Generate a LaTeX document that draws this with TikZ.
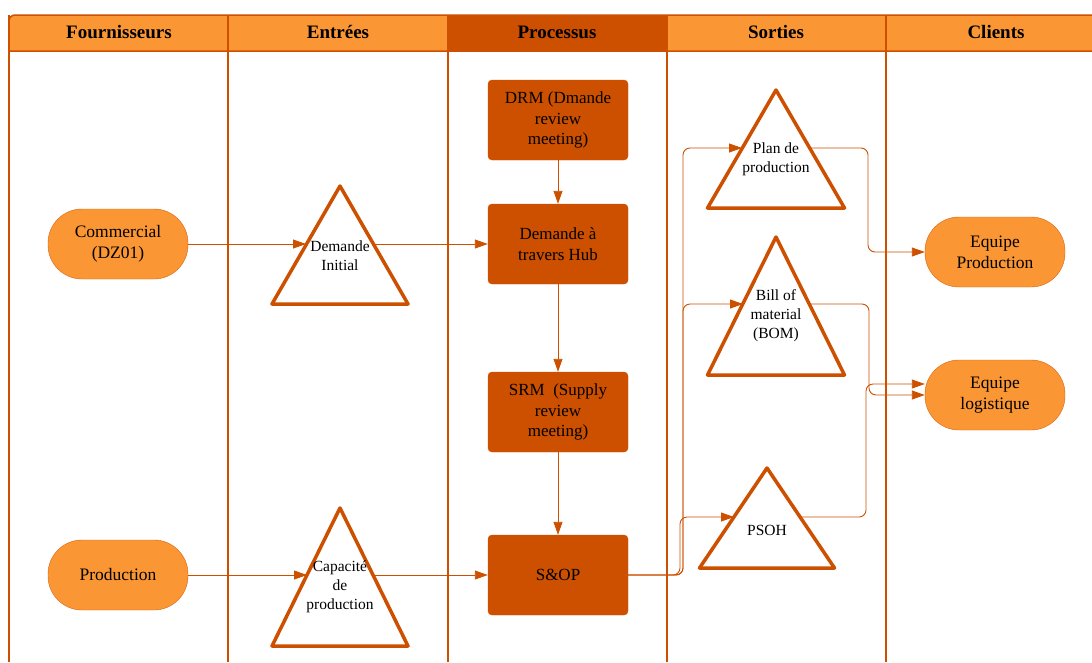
\documentclass[tikz,border=0pt]{standalone}
\usepackage{fontspec}
\setmainfont{Liberation Serif}
\usetikzlibrary{arrows.meta}
\definecolor{dkor}{HTML}{CC5000}
\definecolor{ltor}{HTML}{FB9634}
\tikzset{
    lane/.style={draw=dkor, line width=1.5pt},
    head/.style={font=\fontsize{19}{21}\selectfont\bfseries},
    actor/.style={draw=dkor!70!ltor, fill=ltor, rounded corners=34pt, minimum width=140pt, minimum height=70pt, align=center, font=\fontsize{17.5}{21}\selectfont},
    proc/.style={draw=dkor, fill=dkor, rounded corners=4pt, minimum width=140pt, minimum height=80pt, align=center, font=\fontsize{17}{20.5}\selectfont},
    tri/.style={draw=dkor, line width=3.5pt, line join=round, fill=white},
    tritext/.style={align=center, font=\fontsize{15.5}{19}\selectfont},
    flow/.style={->, draw=dkor, line width=0.9pt, rounded corners=7pt},
}
\begin{document}
\begin{tikzpicture}[x=1pt, y=-1pt, >={Triangle[length=13pt,width=9pt]}]
    \useasboundingbox (0,0) rectangle (1092,662);
    % header band
    \fill[ltor] (9,21) arc[start angle=180, end angle=270, radius=6] -- (1092,15) -- (1092,51) -- (9,51) -- cycle;
    \fill[dkor] (448,15) rectangle (667,51);
    \draw[lane] (1092,51) -- (9,51) -- (9,21) arc[start angle=180, end angle=270, radius=6] -- (1092,15);
    \foreach \x in {9,228,448,667,886}
    {
        \draw[lane] (\x,15) -- (\x,662);
    }
    \foreach \x/\name/\xtext in {119/hF/Fournisseurs, 338/hE/Entrées, 557/hP/Processus, 776/hS/Sorties, 996/hC/Clients}
    {
        \node[head] (\name) at (\x,32) {\xtext};
    }

    % fournisseurs et clients
    \node[actor] (comm) at (118,244) {Commercial\\(DZ01)};
    \node[actor] (prod) at (118,575) {Production};
    \node[actor] (eqp) at (995,252) {Equipe\\Production};
    \node[actor] (eql) at (995,395) {Equipe\\logistique};

    % processus
    \node[proc] (drm) at (558,120) {DRM (Dmande\\review\\meeting)};
    \node[proc] (hub) at (558,244) {Demande à\\travers Hub};
    \node[proc] (srm) at (558,412) {SRM~ (Supply\\review\\meeting)};
    \node[proc] (sop) at (558,575) {S\&OP};

    % entrees
    \draw[tri] (340,186) -- (408,304) -- (272,304) -- cycle;
    \node[tritext] (dmi) at (340,256) {Demande\\Initial};
    \coordinate (dmi-l) at (306,244);
    \coordinate (dmi-r) at (374,244);
    \draw[tri] (340,508) -- (408,646) -- (272,646) -- cycle;
    \node[tritext] (cap) at (340,587) {Capacité\\de\\production};
    \coordinate (cap-l) at (307,575);
    \coordinate (cap-r) at (373,575);

    % sorties
    \draw[tri] (776,90) -- (844.5,208) -- (707.5,208) -- cycle;
    \node[tritext] (plan) at (776,159) {Plan de\\production};
    \coordinate (plan-l) at (742,148);
    \coordinate (plan-r) at (810,148);
    \draw[tri] (776,237) -- (844.5,375) -- (707.5,375) -- cycle;
    \node[tritext] (bom) at (776,316) {Bill of\\material\\(BOM)};
    \coordinate (bom-l) at (743,304);
    \coordinate (bom-r) at (809,304);
    \draw[tri] (767,468) -- (834.5,568) -- (699.5,568) -- cycle;
    \node[tritext] (psoh) at (767,530) {PSOH};
    \coordinate (psoh-l) at (734,517);
    \coordinate (psoh-r) at (800,517);

    % liens
    \draw[flow] (comm.east) -- (dmi-l);
    \draw[flow] (dmi-r) -- (hub.west);
    \draw[flow] (prod.east) -- (cap-l);
    \draw[flow] (cap-r) -- (sop.west);
    \draw[flow] (drm.south) -- (hub.north);
    \draw[flow] (hub.south) -- (srm.north);
    \draw[flow] (srm.south) -- (sop.north);
    \coordinate (bus) at (683,575);
    \draw[flow] (sop.east) -- (bus) |- (plan-l);
    \draw[flow] (sop.east) -- (bus) |- (bom-l);
    \draw[flow] (sop.east) -- ([xshift=-3pt]bus) |- (psoh-l);
    \draw[flow] (plan-r) -- ++(58,0) |- (eqp.west);
    \draw[flow] (bom-r) -- ++(60,0) |- (eql.west);
    \draw[flow] (psoh-r) -- ++(66,0) |- ([yshift=11pt]eql.west);
\end{tikzpicture}
\end{document}
